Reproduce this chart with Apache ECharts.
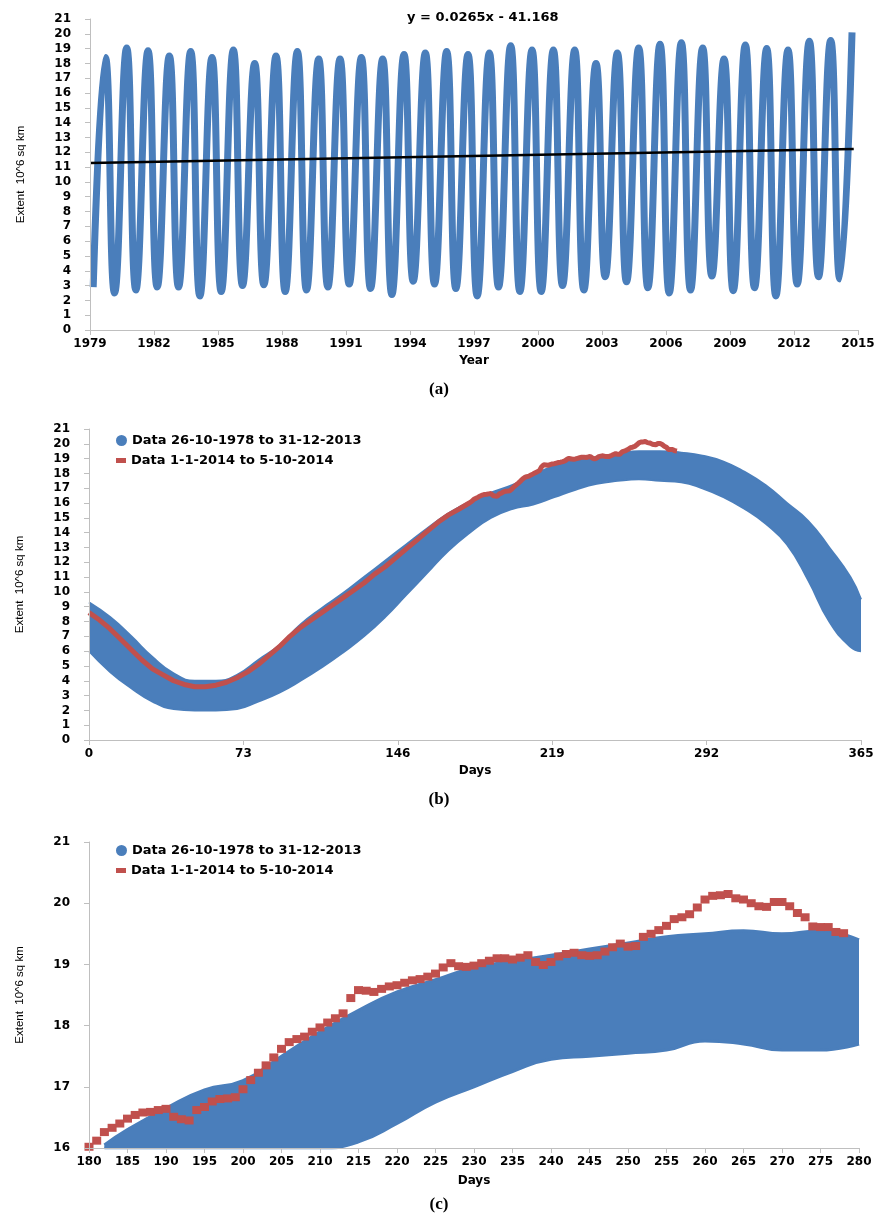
<!DOCTYPE html>
<html>
<head>
<meta charset="utf-8">
<script src="https://cdn.jsdelivr.net/npm/echarts@6/dist/echarts.min.js"></script>
<style>
html, body { margin: 0; padding: 0; background: #fff; }
#chart { width: 878px; height: 1222px; }
</style>
</head>
<body>
<div id="chart"></div>
<script>
// (a) yearly minimum / maximum extent, 1979 .. 2014
let aFirstYear = 1979;
let aMin = [2.9, 2.5, 2.7, 2.9, 2.9, 2.3, 2.6, 3.0, 3.05, 2.6, 2.7, 2.9, 3.1, 2.8, 2.4, 3.3, 3.1, 2.8,
  2.3, 2.9, 2.6, 2.6, 3.0, 2.7, 3.6, 3.25, 2.85, 2.5, 2.7, 3.65, 2.65, 2.85, 2.3, 3.1, 3.6, 3.45];
let aMax = [18.4, 19.05, 18.85, 18.5, 18.8, 18.4, 18.9, 18.0, 18.5, 18.8, 18.3, 18.3, 18.4, 18.3, 18.6, 18.7, 18.8, 18.6,
  18.7, 19.2, 18.9, 18.9, 18.9, 18.0, 18.7, 19.05, 19.3, 19.4, 19.05, 18.3, 19.25, 19.0, 18.9, 19.5, 19.55, 20.1];
let minAt = 0.15;   // time of year of the minimum
let maxAt = 0.72;   // time of year of the maximum
let trendSlope = 0.0265;
let trendIntercept = -41.168;
let trendEnd = 35.8;

// (b) envelope of the 1978-2013 daily data
let bDays = [0, 10, 20, 30, 40, 50, 60, 70, 80, 90, 100, 110, 120, 130, 140, 150, 160, 170, 180,
  190, 200, 210, 220, 230, 240, 250, 260, 270, 280, 290, 300, 310, 320, 330, 340, 350, 360, 365];
let bUpper = [9.3, 8.3, 7.0, 5.6, 4.5, 4.0, 4.0, 4.4, 5.4, 6.4, 7.8, 8.9, 9.9, 11.0, 12.1, 13.2, 14.3, 15.3, 16.1,
  16.7, 17.2, 17.9, 18.5, 18.9, 19.1, 19.3, 19.5, 19.5, 19.4, 19.2, 18.8, 18.1, 17.2, 16.0, 14.8, 13.0, 11.0, 9.5];
let bLower = [6.0, 4.6, 3.5, 2.6, 2.1, 2.0, 2.0, 2.1, 2.6, 3.2, 4.0, 4.9, 5.9, 7.0, 8.3, 9.8, 11.3, 12.8, 14.0,
  15.0, 15.6, 15.9, 16.4, 16.9, 17.3, 17.5, 17.6, 17.5, 17.4, 17.0, 16.4, 15.6, 14.6, 13.2, 10.8, 8.0, 6.3, 6.0];

// (c) envelope of the 1978-2013 data, days 182 .. 280
let cDays = [182, 185, 190, 195, 200, 205, 210, 215, 220, 225, 230, 235, 240, 245, 250, 255, 260, 265, 270, 275, 280];
let cUpper = [16.05, 16.3, 16.65, 16.95, 17.1, 17.5, 17.9, 18.25, 18.55, 18.75, 18.95, 19.05, 19.15, 19.25, 19.35,
  19.45, 19.5, 19.55, 19.5, 19.55, 19.4];
let cLower = [16.0, 16.0, 16.0, 16.0, 16.0, 16.0, 16.0, 16.1, 16.4, 16.75, 17.0, 17.25, 17.45, 17.5, 17.55,
  17.6, 17.75, 17.7, 17.6, 17.6, 17.7];

// 2014: every 5 days for days 0..175, then daily for days 180..278
let redEarly = [8.6, 8.1, 7.5, 6.8, 6.1, 5.4, 4.8, 4.4, 4.0, 3.75, 3.6, 3.6, 3.7, 3.9, 4.2, 4.6, 5.1, 5.7,
  6.3, 7.0, 7.6, 8.1, 8.6, 9.1, 9.6, 10.1, 10.6, 11.2, 11.7, 12.3, 12.9, 13.5, 14.1, 14.7, 15.2, 15.6];
let redLate = [16.02, 16.12, 16.26, 16.33, 16.40, 16.48, 16.54, 16.58, 16.59, 16.62, 16.64, 16.51, 16.47, 16.45,
  16.62, 16.67, 16.76, 16.80, 16.81, 16.83, 16.96, 17.11, 17.23, 17.35, 17.48, 17.62, 17.73, 17.78,
  17.82, 17.90, 17.97, 18.05, 18.12, 18.20, 18.45, 18.58, 18.57, 18.55, 18.60, 18.64, 18.66, 18.70,
  18.74, 18.76, 18.80, 18.85, 18.95, 19.02, 18.97, 18.96, 18.98, 19.02, 19.06, 19.10, 19.10, 19.08,
  19.11, 19.15, 19.04, 18.99, 19.04, 19.13, 19.17, 19.19, 19.15, 19.14, 19.15, 19.21, 19.28, 19.34,
  19.29, 19.30, 19.45, 19.50, 19.56, 19.63, 19.74, 19.77, 19.82, 19.93, 20.06, 20.12, 20.13, 20.15,
  20.08, 20.06, 20.00, 19.95, 19.94, 20.02, 20.02, 19.95, 19.84, 19.77, 19.62, 19.61, 19.61, 19.53, 19.51];

let blueName = "Data 26-10-1978 to 31-12-2013";
let redName = "Data 1-1-2014 to 5-10-2014";
let blue = "#4A7EBB";
let red = "#C0504D";

// build series data
let aLine = [];
aMin.forEach(function (v, i) {
  aLine.push([i + minAt, v]);
  aLine.push([i + maxAt, aMax[i]]);
});
let aTrend = [0, trendEnd].map(function (t) {
  return [t, trendSlope * (aFirstYear + t) + trendIntercept];
});
let pairs = function (xs, ys) { return xs.map(function (x, i) { return [x, ys[i]]; }); };
let red2014 = [];
redEarly.forEach(function (v, i) { red2014.push([i * 5, v]); });
redLate.forEach(function (v, i) { red2014.push([180 + i, v]); });

let labelFont = { color: "#000", fontFamily: "DejaVu Sans", fontWeight: "bold", fontSize: 12 };

function xAxisOf(grid, min, max, interval, name, gap, fmt) {
  return {
    gridIndex: grid, type: "value", min: min, max: max, interval: interval, z: 10,
    name: name, nameLocation: "middle", nameGap: gap,
    nameTextStyle: labelFont,
    axisLine: { show: true, onZero: false, lineStyle: { color: "#BFBFBF" } },
    axisTick: { show: true, length: 5, lineStyle: { color: "#BFBFBF" } },
    axisLabel: Object.assign({ margin: 8, fontSize: 12.5, formatter: fmt }, labelFont),
    splitLine: { show: false }
  };
}
function yAxisOf(grid, min, max) {
  return {
    gridIndex: grid, type: "value", min: min, max: max, interval: 1, z: 10,
    name: "Extent  10^6 sq km", nameLocation: "middle", nameGap: 63, nameRotate: 90,
    nameTextStyle: { color: "#000", fontFamily: "Liberation Sans", fontSize: 11.5 },
    axisLine: { show: true, lineStyle: { color: "#BFBFBF" } },
    axisTick: { show: true, length: 5, lineStyle: { color: "#BFBFBF" } },
    axisLabel: Object.assign({ margin: 19 }, labelFont),
    splitLine: { show: false }
  };
}
function legendOf(name, icon, top, w, h) {
  return {
    data: [{ name: name, icon: icon }], left: 116, top: top, padding: 0,
    itemWidth: w, itemHeight: h, selectedMode: false,
    textStyle: { color: "#000", fontFamily: "DejaVu Sans", fontWeight: "bold", fontSize: 13 }
  };
}
function caption(text, top) {
  return {
    text: text, left: "center", top: top, padding: 0,
    textStyle: { color: "#000", fontFamily: "Liberation Serif", fontWeight: "bold", fontSize: 17 }
  };
}
// blue band: upper edge filled blue down to the axis, lower edge filled white
function bandSeries(xi, days, upper, lower, width) {
  return [
    {
      name: blueName, type: "line", xAxisIndex: xi, yAxisIndex: xi,
      data: pairs(days, upper), smooth: true, symbol: "none",
      lineStyle: { color: blue, width: width }, itemStyle: { color: blue },
      areaStyle: { color: blue, opacity: 1 }, z: 2
    },
    {
      name: "lower" + xi, type: "line", xAxisIndex: xi, yAxisIndex: xi,
      data: pairs(days, lower), smooth: true, symbol: "none",
      lineStyle: { color: blue, width: width }, itemStyle: { color: blue },
      areaStyle: { color: "#fff", opacity: 1 }, z: 2
    }
  ];
}

let dom = echarts.init(document.getElementById("chart"));
dom.setOption({
  animation: false,
  backgroundColor: "#fff",
  title: [
    {
      text: "y = 0.0265x - 41.168", left: 407, top: 11, padding: 0,
      textStyle: { color: "#000", fontFamily: "DejaVu Sans", fontWeight: "bold", fontSize: 13 }
    },
    caption("(a)", 381),
    caption("(b)", 791),
    caption("(c)", 1196)
  ],
  legend: [
    legendOf(blueName, "circle", 434, 11, 11),
    legendOf(redName, "rect", 454, 10, 5),
    legendOf(blueName, "circle", 844, 11, 11),
    legendOf(redName, "rect", 864, 10, 5)
  ],
  grid: [
    { left: 90, top: 19, width: 768, height: 311 },
    { left: 89, top: 429, width: 772, height: 311 },
    { left: 89, top: 842, width: 770, height: 306 }
  ],
  xAxis: [
    xAxisOf(0, 0, 36, 3, "Year", 25, function (v) { return String(aFirstYear + v); }),
    xAxisOf(1, 0, 365, 73, "Days", 25),
    xAxisOf(2, 180, 280, 5, "Days", 27)
  ],
  yAxis: [
    yAxisOf(0, 0, 21),
    yAxisOf(1, 0, 21),
    yAxisOf(2, 16, 21)
  ],
  series: [
    {
      name: "extent", type: "line", xAxisIndex: 0, yAxisIndex: 0,
      data: aLine, smooth: true, showSymbol: false, symbol: "none",
      lineStyle: { color: blue, width: 7 }, itemStyle: { color: blue }, z: 2
    },
    {
      name: "trend", type: "line", xAxisIndex: 0, yAxisIndex: 0,
      data: aTrend, symbol: "none", lineStyle: { color: "#000", width: 2.5 }, z: 3
    }
  ].concat(bandSeries(1, bDays, bUpper, bLower, 2)).concat([
    {
      name: redName, type: "line", xAxisIndex: 1, yAxisIndex: 1,
      data: red2014, symbol: "none",
      lineStyle: { color: red, width: 5 }, itemStyle: { color: red }, z: 3
    }
  ]).concat(bandSeries(2, cDays, cUpper, cLower, 3)).concat([
    {
      name: redName, type: "scatter", xAxisIndex: 2, yAxisIndex: 2,
      data: red2014.filter(function (p) { return p[0] >= 180; }),
      symbol: "rect", symbolSize: [9, 8], itemStyle: { color: red, opacity: 1 }, z: 3
    }
  ])
});
dom.resize();
</script>
</body>
</html>
